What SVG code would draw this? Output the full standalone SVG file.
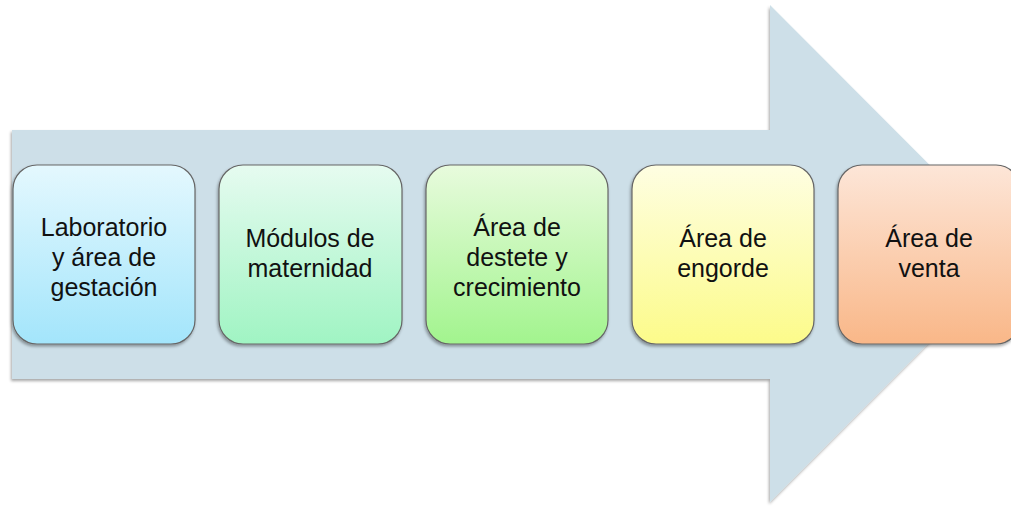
<svg xmlns="http://www.w3.org/2000/svg" width="1011" height="506" viewBox="0 0 1011 506">
<style>
.box{stroke:#666;stroke-width:1.2;filter:url(#sh)}
.t{font-family:"Liberation Sans",Arial,sans-serif;font-size:25px;fill:#111;text-anchor:middle}
</style>
<defs>
<filter id="sh" x="-10%" y="-10%" width="120%" height="125%">
<feDropShadow dx="-1" dy="2" stdDeviation="1.5" flood-color="#000" flood-opacity="0.35"/>
</filter>
<linearGradient id="g1" x1="0" y1="0" x2="0" y2="1"><stop offset="0" stop-color="#e4f8fe"/><stop offset="1" stop-color="#a3e5fb"/></linearGradient>
<linearGradient id="g2" x1="0" y1="0" x2="0" y2="1"><stop offset="0" stop-color="#e6fbf0"/><stop offset="1" stop-color="#a0f4c3"/></linearGradient>
<linearGradient id="g3" x1="0" y1="0" x2="0" y2="1"><stop offset="0" stop-color="#e8fbdd"/><stop offset="1" stop-color="#a2f48e"/></linearGradient>
<linearGradient id="g4" x1="0" y1="0" x2="0" y2="1"><stop offset="0" stop-color="#fefee2"/><stop offset="1" stop-color="#fcfb8a"/></linearGradient>
<linearGradient id="g5" x1="0" y1="0" x2="0" y2="1"><stop offset="0" stop-color="#fde6d8"/><stop offset="1" stop-color="#f9b788"/></linearGradient>
</defs>
<g id="arrow">
<path d="M12,130 H770 V5 L1018,253.5 L770,502 V379 H12 Z" fill="#cddfe8" filter="url(#sh)"/>
</g>
<g id="connectors"></g>
<g id="n1">
<rect class="box" x="13" y="165" width="182" height="179" rx="24" fill="url(#g1)"/>
<text class="t" x="104" y="236">Laboratorio</text>
<text class="t" x="104" y="266">y área de</text>
<text class="t" x="104" y="296">gestación</text>
</g>
<g id="n2">
<rect class="box" x="219" y="165" width="183" height="179" rx="24" fill="url(#g2)"/>
<text class="t" x="310" y="247">Módulos de</text>
<text class="t" x="310" y="277">maternidad</text>
</g>
<g id="n3">
<rect class="box" x="426" y="165" width="182" height="179" rx="24" fill="url(#g3)"/>
<text class="t" x="517" y="236">Área de</text>
<text class="t" x="517" y="266">destete y</text>
<text class="t" x="517" y="296">crecimiento</text>
</g>
<g id="n4">
<rect class="box" x="632" y="165" width="182" height="179" rx="24" fill="url(#g4)"/>
<text class="t" x="723" y="247">Área de</text>
<text class="t" x="723" y="277">engorde</text>
</g>
<g id="n5">
<rect class="box" x="838" y="165" width="182" height="179" rx="24" fill="url(#g5)"/>
<text class="t" x="929" y="247">Área de</text>
<text class="t" x="929" y="277">venta</text>
</g>
</svg>
